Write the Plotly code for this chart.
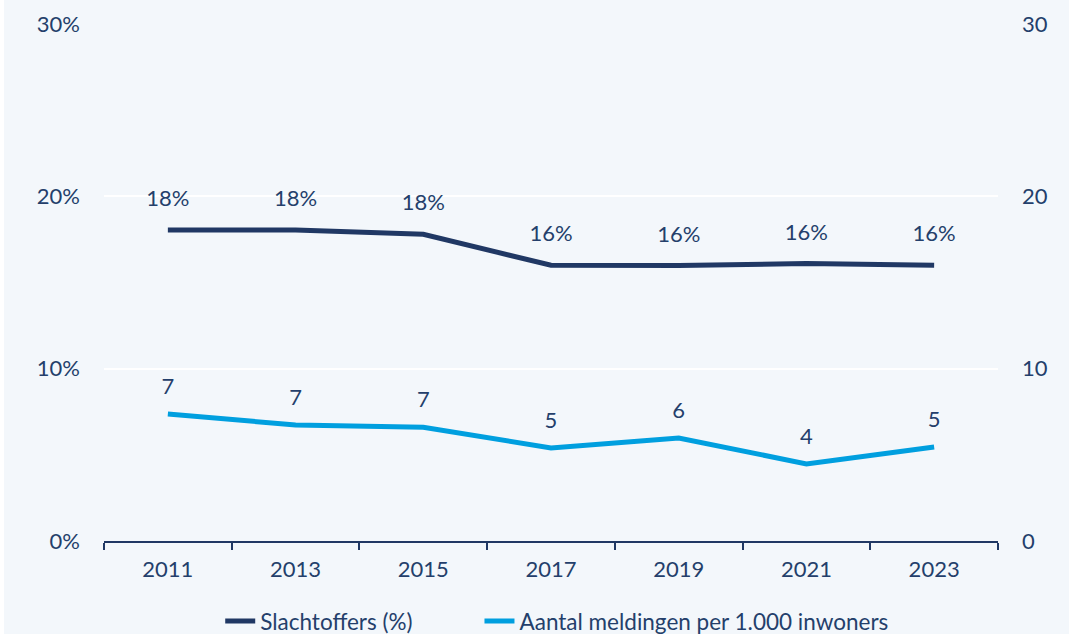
import plotly.graph_objects as go

years = ["2011", "2013", "2015", "2017", "2019", "2021", "2023"]
slachtoffers = [18.05, 18.05, 17.8, 16.0, 15.98, 16.1, 16.0]
meldingen = [7.37, 6.73, 6.6, 5.4, 5.98, 4.47, 5.45]
series_names = ["Slachtoffers (%)", "Aantal meldingen per 1.000 inwoners"]
left_ticks = [0, 10, 20, 30]
left_tick_labels = ["0%", "10%", "20%", "30%"]
right_tick_labels = ["0", "10", "20", "30"]

NAVY = "#203864"
LIGHT = "#009FDF"
TEXT = "#243F6B"
BG = "#F3F7FB"
FONT = "Lato"
FS = 22

fig = go.Figure()
fig.add_trace(go.Scatter(x=years, y=slachtoffers, mode="lines", name=series_names[0],
                         line=dict(color=NAVY, width=5), yaxis="y", legend="legend"))
fig.add_trace(go.Scatter(x=years, y=meldingen, mode="lines", name=series_names[1],
                         line=dict(color=LIGHT, width=5), yaxis="y2", legend="legend2"))

# value labels: invisible markers push the text up above the line
fig.add_trace(go.Scatter(x=years, y=slachtoffers, mode="markers+text", showlegend=False,
                         marker=dict(size=28, opacity=0),
                         text=[f"{v:.0f}%" for v in slachtoffers], textposition="top center",
                         textfont=dict(size=FS, color=TEXT, family=FONT), yaxis="y",
                         hoverinfo="skip"))
fig.add_trace(go.Scatter(x=years, y=meldingen, mode="markers+text", showlegend=False,
                         marker=dict(size=22, opacity=0),
                         text=[f"{v:.0f}" for v in meldingen], textposition="top center",
                         textfont=dict(size=FS, color=TEXT, family=FONT), yaxis="y2",
                         hoverinfo="skip"))

legend_common = dict(orientation="h", xanchor="left", yref="container", y=0.02,
                     yanchor="middle", font=dict(size=22.5, color=TEXT),
                     bgcolor="rgba(0,0,0,0)")

fig.update_layout(
    width=1065, height=634,
    paper_bgcolor=BG, plot_bgcolor=BG,
    margin=dict(l=100, r=71, t=24, b=93, autoexpand=False),
    font=dict(family=FONT, size=FS, color=TEXT),
    showlegend=True,
    legend=dict(x=0.130, **legend_common),
    legend2=dict(x=0.420, **legend_common),
    xaxis=dict(type="category", range=[-0.5, 6.5], showgrid=False,
               showline=True, linecolor=NAVY, linewidth=2,
               ticks="outside", tickson="boundaries", ticklen=7, tickcolor=NAVY, tickwidth=2,
               ticklabelstandoff=8, tickfont=dict(size=FS, color=TEXT)),
    yaxis=dict(range=[0, 30], tickmode="array", tickvals=left_ticks, ticktext=left_tick_labels,
               showgrid=True, gridcolor="#FFFFFF", gridwidth=2, zeroline=False,
               showline=False, ticks="", ticklabelstandoff=23,
               tickfont=dict(size=FS, color=TEXT)),
    yaxis2=dict(range=[0, 30], tickmode="array", tickvals=left_ticks, ticktext=right_tick_labels,
                overlaying="y", side="right",
                showgrid=False, zeroline=False, showline=False, ticks="",
                ticklabelstandoff=23, tickfont=dict(size=FS, color=TEXT)),
)

fig.write_html("out.html", post_script="document.body.style.margin='0 4px';")
